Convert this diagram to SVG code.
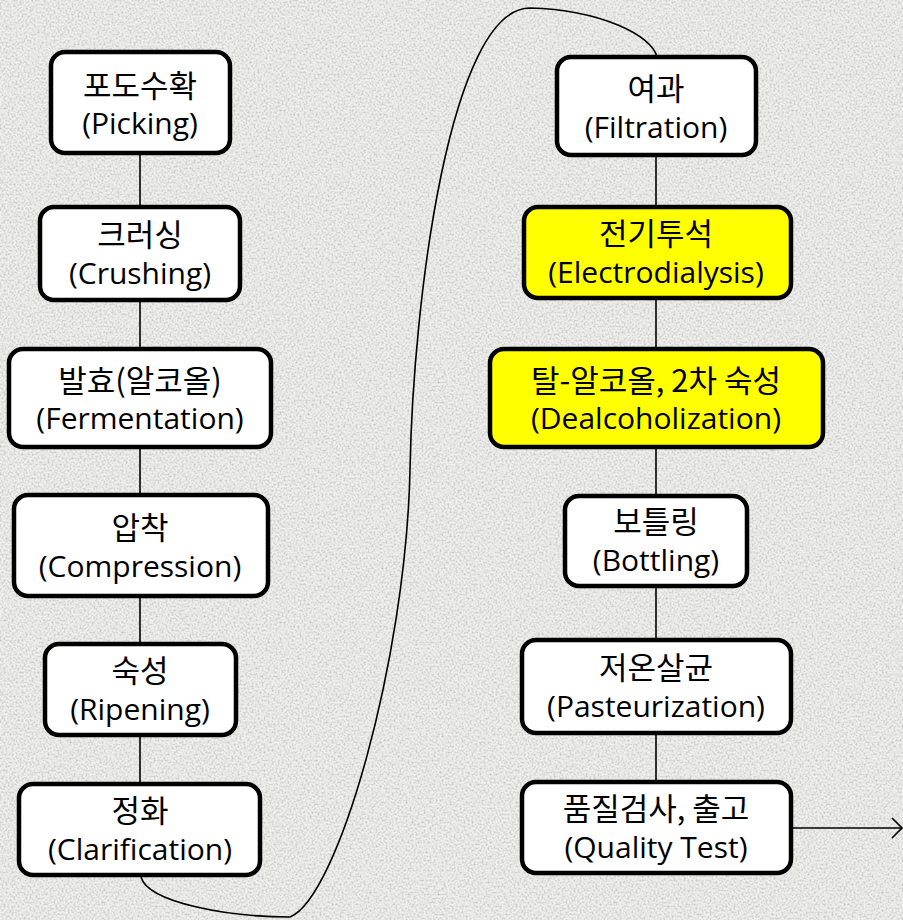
<svg xmlns="http://www.w3.org/2000/svg" width="903" height="920" viewBox="0 0 903 920">
  <defs>
    <filter id="grain" x="0" y="0" width="100%" height="100%" filterUnits="userSpaceOnUse">
      <feTurbulence type="fractalNoise" baseFrequency="0.5" numOctaves="3" seed="7" result="n"/>
      <feColorMatrix in="n" type="matrix" values="0 0 0 0 0.5  0 0 0 0 0.5  0 0 0 0 0.5  1.9 0 0 0 -0.78"/>
    </filter>
    <marker id="open" markerUnits="userSpaceOnUse" markerWidth="14" markerHeight="24" viewBox="0 0 14 24" refX="11" refY="12" orient="auto">
      <path d="M1,2 L11,12 L1,22" fill="none" stroke="#000" stroke-width="1.6"/>
    </marker>
    <style>
      .box { fill: #ffffff; stroke: #000; stroke-width: 4.5; }
      .hl { fill: #ffff00; }
      .t { font-family: "Open Sans", "Noto Sans CJK KR", sans-serif; font-size: 30px; fill: #000; text-anchor: middle; }
      .k { font-family: "Noto Sans CJK KR", sans-serif; font-size: 31px; }
      .c { fill: none; stroke: #000; stroke-width: 1.6; }
    </style>
  </defs>
  <rect x="0" y="0" width="903" height="920" fill="#efefed"/>
  <rect x="0" y="0" width="903" height="920" filter="url(#grain)"/>

  <g id="connectors">
    <line class="c" x1="140" y1="155" x2="140" y2="207"/>
    <line class="c" x1="140" y1="300" x2="140" y2="349"/>
    <line class="c" x1="140" y1="447" x2="140" y2="495"/>
    <line class="c" x1="140" y1="596" x2="140" y2="644"/>
    <line class="c" x1="140" y1="735" x2="140" y2="784"/>
    <path class="c" d="M141,877 C148,903 230,917 290,917 C338,898 406,660 410,470 C413,300 450,8 530,8 C600,10 652,35 657,57"/>
    <line class="c" x1="656" y1="155" x2="656" y2="207"/>
    <line class="c" x1="656" y1="298" x2="656" y2="349"/>
    <line class="c" x1="656" y1="447" x2="656" y2="496"/>
    <line class="c" x1="656" y1="586" x2="656" y2="640"/>
    <line class="c" x1="656" y1="733" x2="656" y2="782"/>
    <line class="c" x1="793" y1="828" x2="902" y2="828" marker-end="url(#open)"/>
  </g>

  <g id="n1">
    <rect class="box" x="51" y="52" width="179" height="101" rx="14"/>
    <text class="t k" x="140" y="97">포도수확</text>
    <text class="t" x="140" y="134">(Picking)</text>
  </g>
  <g id="n2">
    <rect class="box" x="40" y="207" width="200" height="93" rx="14"/>
    <text class="t k" x="140" y="246">크러싱</text>
    <text class="t" x="140" y="284">(Crushing)</text>
  </g>
  <g id="n3">
    <rect class="box" x="9" y="349" width="262" height="98" rx="14"/>
    <text class="t k" x="140" y="392">발효(알코올)</text>
    <text class="t" x="140" y="429">(Fermentation)</text>
  </g>
  <g id="n4">
    <rect class="box" x="14" y="495" width="254" height="101" rx="14"/>
    <text class="t k" x="140" y="539">압착</text>
    <text class="t" x="140" y="577">(Compression)</text>
  </g>
  <g id="n5">
    <rect class="box" x="45" y="644" width="191" height="91" rx="14"/>
    <text class="t k" x="140" y="682">숙성</text>
    <text class="t" x="140" y="720">(Ripening)</text>
  </g>
  <g id="n6">
    <rect class="box" x="19" y="784" width="241" height="91" rx="14"/>
    <text class="t k" x="140" y="822">정화</text>
    <text class="t" x="140" y="860">(Clarification)</text>
  </g>

  <g id="n7">
    <rect class="box" x="557" y="57" width="199" height="98" rx="14"/>
    <text class="t k" x="656" y="100">여과</text>
    <text class="t" x="656" y="138">(Filtration)</text>
  </g>
  <g id="n8">
    <rect class="box hl" x="524" y="207" width="267" height="91" rx="14"/>
    <text class="t k" x="656" y="245">전기투석</text>
    <text class="t" x="656" y="283">(Electrodialysis)</text>
  </g>
  <g id="n9">
    <rect class="box hl" x="490" y="349" width="333" height="98" rx="14"/>
    <text class="t k" x="656" y="392">탈-알코올, 2차 숙성</text>
    <text class="t" x="656" y="429">(Dealcoholization)</text>
  </g>
  <g id="n10">
    <rect class="box" x="565" y="496" width="182" height="90" rx="14"/>
    <text class="t k" x="656" y="533">보틀링</text>
    <text class="t" x="656" y="571">(Bottling)</text>
  </g>
  <g id="n11">
    <rect class="box" x="522" y="640" width="269" height="93" rx="14"/>
    <text class="t k" x="656" y="679">저온살균</text>
    <text class="t" x="656" y="717">(Pasteurization)</text>
  </g>
  <g id="n12">
    <rect class="box" x="522" y="782" width="269" height="91" rx="14"/>
    <text class="t k" x="656" y="820">품질검사, 출고</text>
    <text class="t" x="656" y="858">(Quality Test)</text>
  </g>
</svg>
